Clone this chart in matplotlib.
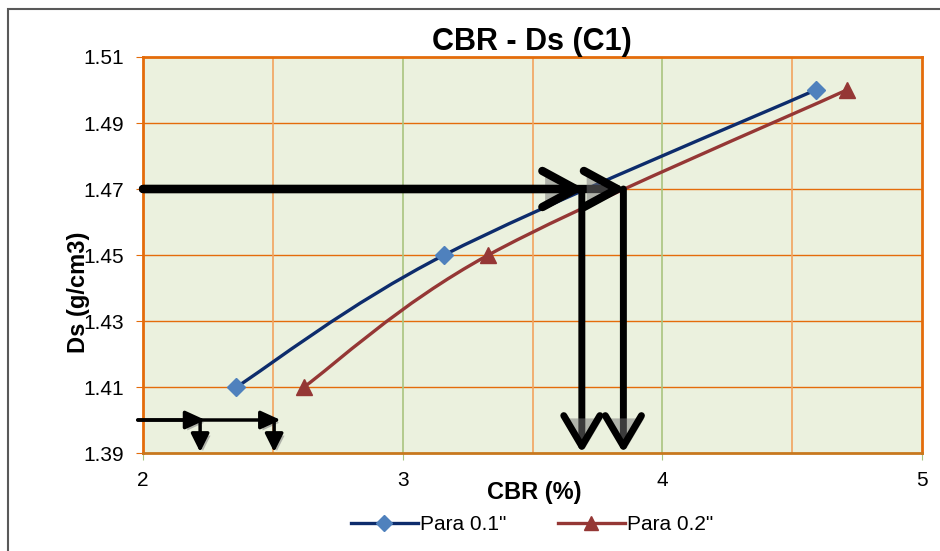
import numpy as np
import matplotlib
matplotlib.use("Agg")
import matplotlib.pyplot as plt
import matplotlib.patheffects as pe
from matplotlib.path import Path
from matplotlib.patches import PathPatch, Rectangle
from matplotlib.lines import Line2D

plt.rcParams["font.family"] = ["Liberation Sans", "DejaVu Sans"]

# datos
cbr_01 = [2.36, 3.16, 4.59]
ds_01 = [1.41, 1.45, 1.50]
cbr_02 = [2.62, 3.33, 4.71]
ds_02 = [1.41, 1.45, 1.50]

# flechas de lectura (Ds = 1.47 y Ds = 1.40)
ds_lectura = 1.47
cbr_lectura = [3.70, 3.86]
cbr_bajada = [3.69, 3.85]
ds_lectura_chica = 1.40
cbr_lectura_chica = [2.24, 2.53]
cbr_bajada_chica = [2.22, 2.505]

yticks = [1.39, 1.41, 1.43, 1.45, 1.47, 1.49, 1.51]
xticks = [2, 3, 4, 5]

fig = plt.figure(figsize=(9.4, 5.51), dpi=100)
ax = fig.add_axes([143 / 940, 1 - 453 / 551, 779 / 940, 396 / 551])
ax.set_facecolor("#EBF1DE")
ax.set_xlim(2, 5)
ax.set_ylim(1.39, 1.51)

# borde del grafico
fig.patches.append(Rectangle((8 / 940, -0.2), 1.5, 1.2 - 9 / 551, transform=fig.transFigure,
                             fill=False, edgecolor="#595959", lw=1.5))

# rejilla
for y in yticks[1:-1]:
    ax.axhline(y, color="#E46C0A", lw=1.0, zorder=1)
for x in [2.5, 3.5, 4.5]:
    ax.axvline(x, color="#F2A35E", lw=1.2, zorder=1)
for x in [3, 4]:
    ax.axvline(x, color="#A9C47F", lw=1.2, zorder=1)
for s in ax.spines.values():
    s.set_color("#E46C0A")
    s.set_linewidth(2)
ax.spines["bottom"].set_color("#C8781E")

ax.set_yticks(yticks)
ax.set_yticklabels([f"{v:.2f}" for v in yticks])
ax.set_xticks(xticks)
ax.set_xticklabels([str(v) for v in xticks])
ax.tick_params(axis="y", length=5, color="#E46C0A", labelsize=15, pad=9)
ax.tick_params(axis="x", length=5, color="#A9C47F", labelsize=15, pad=8)


def curva_suave(xs, ys):
    # curva suavizada tipo Excel (Catmull-Rom a Bezier) en coordenadas de pantalla
    pts = ax.transData.transform(np.column_stack([xs, ys]))
    n = len(pts)
    verts = [pts[0]]
    codes = [Path.MOVETO]
    for i in range(n - 1):
        p0 = pts[max(i - 1, 0)]
        p1 = pts[i]
        p2 = pts[i + 1]
        p3 = pts[min(i + 2, n - 1)]
        c1 = p1 + (p2 - p0) / 6
        c2 = p2 - (p3 - p1) / 6
        verts += [c1, c2, p2]
        codes += [Path.CURVE4] * 3
    verts = ax.transData.inverted().transform(np.array(verts))
    return Path(verts, codes)


ax.add_patch(PathPatch(curva_suave(cbr_01, ds_01), fill=False, edgecolor="#0D2C6C", lw=2.4, zorder=3))
ax.add_patch(PathPatch(curva_suave(cbr_02, ds_02), fill=False, edgecolor="#953735", lw=2.4, zorder=3))
ax.plot(cbr_01, ds_01, ls="none", marker="D", ms=9, color="#4F81BD", zorder=4)
ax.plot(cbr_02, ds_02, ls="none", marker="^", ms=12, color="#953735", zorder=4)

sombra = [pe.SimplePatchShadow(offset=(2, -2), shadow_rgbFace="#777777", alpha=0.5), pe.Normal()]

# flechas grandes
for xc in cbr_lectura:
    ax.annotate("", xy=(xc, ds_lectura), xytext=(2.0, ds_lectura),
                arrowprops=dict(arrowstyle="->,head_length=2.4,head_width=1.3", lw=6,
                                color="black", mutation_scale=10, shrinkA=0, shrinkB=0,
                                path_effects=sombra), zorder=5)
for xc in cbr_bajada:
    ax.annotate("", xy=(xc, 1.39), xytext=(xc, ds_lectura),
                arrowprops=dict(arrowstyle="->,head_length=2.2,head_width=1.3", lw=5,
                                color="black", mutation_scale=10, shrinkA=0, shrinkB=0,
                                path_effects=sombra), zorder=5)

# flechas chicas
for xc in cbr_lectura_chica:
    ax.annotate("", xy=(xc, ds_lectura_chica), xytext=(1.98, ds_lectura_chica),
                arrowprops=dict(arrowstyle="-|>,head_length=1.2,head_width=0.55", lw=2.5,
                                color="black", mutation_scale=10, shrinkA=0, shrinkB=0,
                                path_effects=sombra), zorder=5, annotation_clip=False)
for xc in cbr_bajada_chica:
    ax.annotate("", xy=(xc, 1.3903), xytext=(xc, ds_lectura_chica),
                arrowprops=dict(arrowstyle="-|>,head_length=1.1,head_width=0.55", lw=2.5,
                                color="black", mutation_scale=10, shrinkA=0, shrinkB=0,
                                path_effects=sombra), zorder=5, annotation_clip=False)

fig.text(532 / 940, 1 - 42 / 551, "CBR - Ds (C1)", fontsize=22, fontweight="bold",
         ha="center", va="center")
fig.text(534 / 940, 1 - 493 / 551, "CBR (%)", fontsize=17, fontweight="bold",
         ha="center", va="center")
fig.text(79 / 940, 1 - 292 / 551, "Ds (g/cm3)", fontsize=17, fontweight="bold",
         ha="center", va="center", rotation=90)

h1 = Line2D([], [], color="#0D2C6C", lw=2.4, marker="D", ms=8, mfc="#4F81BD", mec="#4F81BD")
h2 = Line2D([], [], color="#953735", lw=2.4, marker="^", ms=10, mfc="#953735", mec="#953735")
fig.legend([h1, h2], ['Para 0.1"', 'Para 0.2"'], loc="center", bbox_to_anchor=(532 / 940, 1 - 525 / 551),
           ncol=2, frameon=False, fontsize=15, handlelength=3.2, columnspacing=2.5,
           handletextpad=0.1, markerfirst=True)

fig.savefig("out.png", dpi=100)
